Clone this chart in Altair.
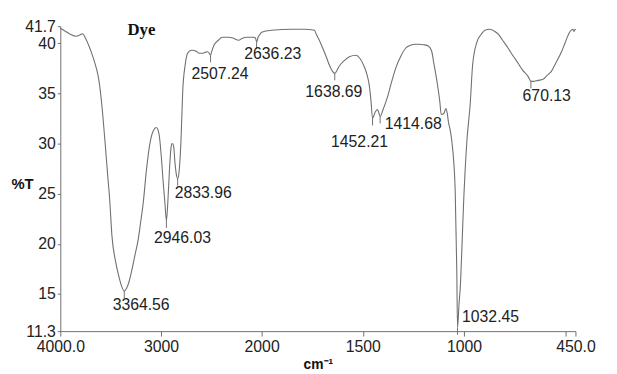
import altair as alt
import pandas as pd

# IR spectrum of the dye (wavenumber in cm-1, transmittance in %T)
wavenumber = [4000, 3950, 3900, 3846, 3810, 3781, 3740, 3699, 3650, 3618, 3585, 3552, 3529,
              3510, 3487, 3450, 3422, 3395, 3364.56, 3340, 3315, 3291, 3260, 3225, 3200,
              3176, 3144, 3110, 3075, 3046, 3020, 2995, 2980, 2960, 2946.03, 2930, 2915,
              2900, 2889, 2875, 2860, 2845, 2833.96, 2820, 2801, 2784, 2760, 2735, 2700,
              2686, 2650, 2620, 2588, 2560, 2539, 2520, 2507.24, 2495, 2474, 2430, 2392,
              2327, 2280, 2229, 2190, 2147, 2082, 2060, 2050, 2035, 2016, 2000, 1951,
              1850, 1788, 1739, 1730, 1715, 1698, 1680, 1665, 1650, 1638.69, 1625, 1617,
              1590, 1567, 1534, 1515, 1494, 1480, 1469, 1460, 1452.21, 1440, 1428, 1420,
              1414.68, 1400, 1379, 1360, 1338, 1310, 1289, 1265, 1240, 1224, 1200, 1175,
              1160, 1151, 1134, 1120, 1113, 1100, 1090, 1083, 1077, 1070, 1061, 1044,
              1036, 1032.45, 1025, 1019, 1010, 1003, 986, 970, 958, 937, 915, 897, 872,
              850, 831, 810, 782, 760, 733, 710, 684, 670.13, 659, 635, 610, 590, 569,
              545, 520, 500, 479, 463, 458, 455, 452, 450]
transmittance = [41.5, 41.2, 40.9, 40.7, 40.8, 40.95, 40.3, 39.3, 37.8, 36.4, 33.6, 29.7, 26.8,
                 24.5, 20.8, 18.2, 16.9, 15.9, 15.3, 15.6, 16.3, 17.3, 18.8, 20.5, 22.3,
                 24.1, 27.4, 30.0, 31.3, 31.6, 31.0, 28.5, 26.4, 24.0, 22.3, 24.5, 27.5,
                 29.6, 30.0, 29.8, 28.0, 26.8, 26.5, 27.2, 30.3, 35.2, 37.8, 39.0, 39.3,
                 39.3, 39.2, 39.0, 39.0, 39.1, 39.15, 39.0, 38.8, 39.2, 39.8, 40.3, 40.6,
                 40.6, 40.5, 40.3, 40.5, 40.6, 40.6, 40.5, 40.1, 40.6, 40.9, 41.1, 41.3,
                 41.4, 41.4, 41.3, 40.9, 40.3, 39.5, 38.6, 37.8, 37.2, 37.0, 37.4, 37.7,
                 38.3, 38.65, 38.8, 38.5, 37.7, 36.9, 35.9, 34.3, 32.5, 33.1, 33.4, 33.0,
                 32.7, 33.4, 34.6, 36.0, 37.5, 38.8, 39.5, 39.8, 39.9, 39.9, 39.85, 39.7,
                 39.2, 38.2, 36.2, 34.2, 32.9, 33.0, 33.5, 33.0, 32.1, 31.5, 30.3, 25.4,
                 17.25, 11.65, 14.0, 15.6, 20.0, 23.8, 30.3, 33.9, 37.8, 40.1, 40.9, 41.3, 41.4,
                 41.2, 40.9, 40.3, 39.5, 38.8, 38.0, 37.3, 36.7, 36.2, 36.2, 36.3, 36.4, 36.8, 37.2,
                 38.1, 39.1, 40.1, 41.1, 41.4, 41.2, 41.2, 41.4, 41.3]

# Peak annotations
peak_wn = [3364.56, 2946.03, 2833.96, 2507.24, 2050, 1638.69, 1452.21, 1414.68, 1032.45, 670.13]
peak_t = [15.3, 22.3, 26.5, 38.8, 40.1, 37.0, 32.5, 32.7, 11.65, 36.2]
peak_text = ["3364.56", "2946.03", "2833.96", "2507.24", "2636.23", "1638.69",
             "1452.21", "1414.68", "1032.45", "670.13"]
label_wn = [3480, 3069, 2863, 2696, 2172, 1784, 1657, 1392, 1010, 711]
label_t = [13.87, 20.62, 25.05, 36.97, 38.94, 35.15, 30.17, 31.95, 12.73, 34.7]

sample_name = ["Dye"]
sample_wn = [3333]
sample_t = [41.3]

x_ticks = [4000, 3000, 2000, 1500, 1000, 500, 450]
y_ticks = [11.3, 15, 20, 25, 30, 35, 40, 41.7]

spec = pd.DataFrame({"wn": wavenumber, "t": transmittance})
peaks = pd.DataFrame({"wn": peak_wn, "t": peak_t, "text": peak_text,
                      "lwn": label_wn, "lt": label_t})
peaks["t2"] = peaks["t"] - 0.7
name = pd.DataFrame({"wn": sample_wn, "t": sample_t, "text": sample_name})

FONT = "Liberation Sans"
GRAY = "#707070"

x_scale = alt.Scale(domain=[4000, 2000, 450], range=[0, 204, 522], nice=False, zero=False)
y_scale = alt.Scale(domain=[11.3, 41.7], nice=False, zero=False)

x_axis = alt.Axis(
    values=x_ticks,
    labelExpr="datum.value == 4000 ? '4000.0' : datum.value == 450 ? '450.0' : datum.value == 500 ? '' : toString(datum.value)",
    labelOverlap=False, labelFlush=False, grid=False,
    tickSize=5, tickColor=GRAY, domainColor=GRAY,
    labelColor="#222222", labelFont=FONT, labelFontSize=16, labelPadding=3,
    title="cm⁻¹", titleFont=FONT, titleFontSize=14, titleFontWeight="bold",
    titleColor="#111111", titlePadding=3,
)
y_axis = alt.Axis(
    values=y_ticks, labelExpr="toString(datum.value)",
    labelOverlap=False, labelFlush=False, grid=False,
    tickSize=3, tickColor=GRAY, domainColor=GRAY,
    labelColor="#222222", labelFont=FONT, labelFontSize=16, labelPadding=2,
    title="%T", titleFont=FONT, titleFontSize=15, titleFontWeight="bold",
    titleColor="#111111", titleAngle=0, titleAlign="left", titleBaseline="middle",
    titleX=-50, titleY=159,
)

line = alt.Chart(spec).mark_line(color=GRAY, strokeWidth=1.1, interpolate="monotone").encode(
    x=alt.X("wn:Q", scale=x_scale, axis=x_axis),
    y=alt.Y("t:Q", scale=y_scale, axis=y_axis),
)
ticks = alt.Chart(peaks).mark_rule(color=GRAY, strokeWidth=1).encode(
    x="wn:Q", y="t:Q", y2="t2:Q"
)
labels = alt.Chart(peaks).mark_text(
    align="left", baseline="middle", font=FONT, fontSize=16, color="#222222"
).encode(x="lwn:Q", y="lt:Q", text="text:N")
title = alt.Chart(name).mark_text(
    align="left", baseline="middle", font="Liberation Serif", fontSize=17,
    fontWeight="bold", color="#111111"
).encode(x="wn:Q", y="t:Q", text="text:N")

chart = alt.layer(line, ticks, labels, title).properties(
    width=522, height=309,
    autosize=alt.AutoSizeParams(type="none"),
    padding={"left": 53, "top": 16, "right": 34, "bottom": 41},
).configure_view(stroke=None)

chart.save("out.html", embed_options={"renderer": "svg", "actions": False})
